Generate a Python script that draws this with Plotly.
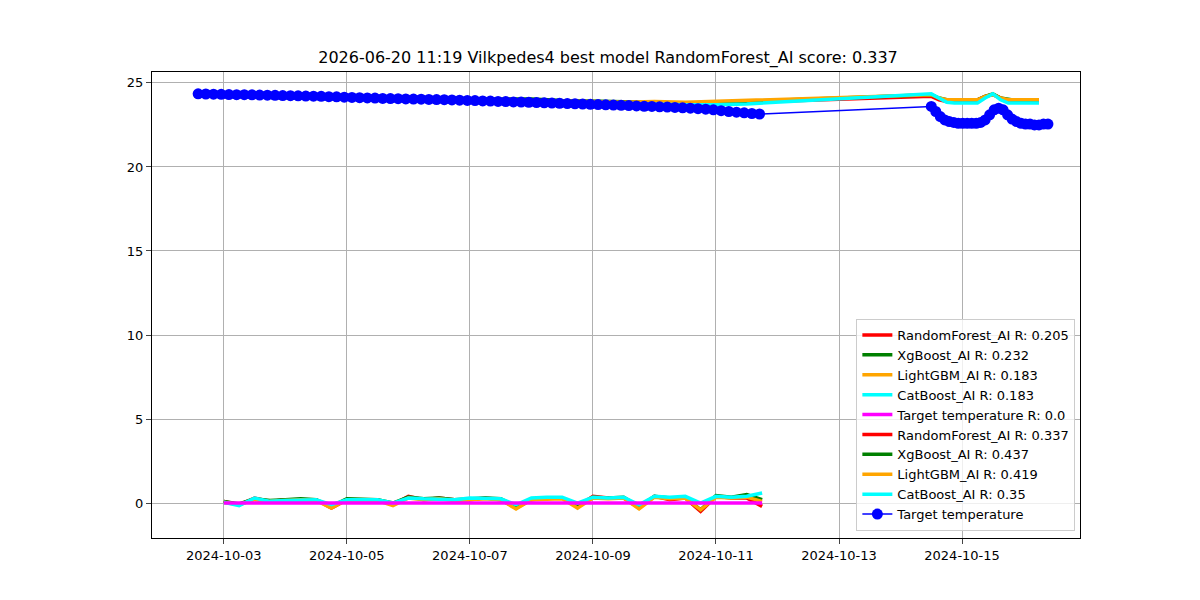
import pandas as pd
import plotly.graph_objects as go

# Target temperature (blue markers)
target_seg1 = [24.35,24.34,24.33,24.32,24.31,24.30,24.30,24.29,24.28,24.27,
               24.26,24.25,24.24,24.23,24.22,24.21,24.20,24.18,24.17,24.15,
               24.14,24.12,24.11,24.10,24.08,24.07,24.06,24.05,24.04,24.03,
               24.02,24.01,24.00,23.99,23.97,23.96,23.95,23.93,23.92,23.90,
               23.89,23.87,23.86,23.85,23.83,23.82,23.80,23.79,23.77,23.76,
               23.74,23.73,23.71,23.70,23.68,23.67,23.65,23.63,23.61,23.60,
               23.58,23.56,23.54,23.52,23.50,23.47,23.44,23.40,23.35,23.30,
               23.26,23.22,23.18,23.15]
target_seg2 = [23.6,23.3,23.0,22.8,22.7,22.65,22.6,22.6,22.6,22.6,22.6,22.65,22.8,23.1,23.4,23.5,23.4,23.1,22.85,
               22.7,22.6,22.55,22.55,22.5,22.5,22.55,22.55]
t_seg1 = pd.date_range("2024-10-02 14:00", periods=len(target_seg1), freq="3h")
t_seg2 = pd.date_range("2024-10-14 12:00", periods=len(target_seg2), freq="1h45min")

# Top predictions
p_seg1_times = pd.date_range("2024-10-03 00:00", periods=18, freq="12h")
p_seg2_times = pd.date_range("2024-10-14 12:00", periods=15, freq="3h")
rf_top1  = [24.2,24.15,24.1,24.1,24.05,24.05,24.0,24.0,23.95,23.95,23.9,23.9,23.85,23.85,23.8,23.8,23.8,23.85]
xg_top1  = [24.25,24.2,24.2,24.15,24.1,24.05,24.0,24.0,24.0,24.0,24.05,23.95,23.9,23.85,23.85,23.8,23.85,23.9]
lg_top1  = [24.2,24.2,24.15,24.1,24.05,24.0,24.0,23.95,23.95,23.95,23.95,23.9,23.9,23.85,23.9,23.85,23.9,23.95]
cb_top1  = [24.2,24.15,24.1,24.1,24.05,24.0,24.0,23.95,23.9,23.9,23.9,23.85,23.8,23.8,23.75,23.7,23.7,23.75]
rf_top2 = [24.2,24.0,23.9,23.9,23.9,23.9,24.0,24.2,24.3,24.1,23.9,23.9,23.9,23.9,23.9]
xg_top2 = [24.3,24.1,24.0,24.0,24.0,24.0,24.0,24.2,24.35,24.1,24.0,23.95,23.95,24.0,24.0]
lg_top2 = [24.3,24.1,24.0,24.0,24.0,24.0,24.0,24.2,24.3,24.1,24.0,24.0,24.0,24.0,24.0]
cb_top2 = [24.35,24.1,23.85,23.8,23.8,23.8,23.8,24.1,24.35,24.0,23.8,23.8,23.8,23.8,23.8]

# Bottom lines, 6h steps
res_times = pd.date_range("2024-10-03 00:00", periods=36, freq="6h")
rf_res = [0.1,-0.1,0.3,0.1, 0.2,0.2,0.2,-0.3, 0.2,0.2,0.2,-0.1, 0.4,0.2,0.3,0.2, 0.2,0.3,0.2,-0.3, 0.2,0.3,0.3,-0.2,
          0.4,0.3,0.3,-0.3, 0.4,0.2,0.3,-0.5, 0.4,0.3,0.3,-0.2]
xg_res = [0.1,-0.05,0.25,0.15, 0.2,0.25,0.2,-0.2, 0.25,0.25,0.2,0.0, 0.35,0.25,0.3,0.2, 0.25,0.3,0.25,-0.2, 0.25,0.3,0.3,-0.1,
          0.35,0.3,0.35,-0.2, 0.4,0.3,0.35,-0.4, 0.45,0.35,0.5,0.2]
lg_res = [0.05,-0.1,0.2,0.1, 0.15,0.2,0.15,-0.3, 0.2,0.2,0.15,-0.15, 0.3,0.2,0.25,0.15, 0.2,0.25,0.2,-0.35, 0.2,0.25,0.25,-0.3,
          0.3,0.25,0.3,-0.35, 0.35,0.25,0.3,-0.4, 0.35,0.3,0.35,0.1]
cb_res = [0.05,-0.15,0.3,0.1, 0.15,0.2,0.2,-0.1, 0.2,0.2,0.2,0.0, 0.3,0.25,0.25,0.2, 0.3,0.3,0.25,-0.1, 0.3,0.35,0.35,0.0,
          0.35,0.3,0.35,-0.1, 0.4,0.35,0.4,0.0, 0.4,0.35,0.4,0.6]
tgt_res = [0.0]*36

fig = go.Figure()
def line(x, y, color, name):
    fig.add_trace(go.Scatter(x=list(x), y=y, mode="lines", line=dict(color=color, width=3.5), name=name))

line(res_times, rf_res, "red", "RandomForest_AI R: 0.205")
line(res_times, xg_res, "green", "XgBoost_AI R: 0.232")
line(res_times, lg_res, "orange", "LightGBM_AI R: 0.183")
line(res_times, cb_res, "cyan", "CatBoost_AI R: 0.183")
line(res_times, tgt_res, "magenta", "Target temperature R: 0.0")

for top1, top2, color, name in [(rf_top1, rf_top2, "red", "RandomForest_AI R: 0.337"),
                                (xg_top1, xg_top2, "green", "XgBoost_AI R: 0.437"),
                                (lg_top1, lg_top2, "orange", "LightGBM_AI R: 0.419"),
                                (cb_top1, cb_top2, "cyan", "CatBoost_AI R: 0.35")]:
    line(list(p_seg1_times) + list(p_seg2_times), top1 + top2, color, name)

fig.add_trace(go.Scatter(x=list(t_seg1) + list(t_seg2), y=target_seg1 + target_seg2, mode="lines+markers",
                         line=dict(color="blue", width=1.5), marker=dict(color="blue", size=11),
                         name="Target temperature"))

fig.update_layout(
    width=1200, height=600, plot_bgcolor="white", paper_bgcolor="white",
    font=dict(family="DejaVu Sans", size=13, color="black"),
    title=dict(text="2026-06-20 11:19 Vilkpedes4 best model RandomForest_AI score: 0.337",
               x=0.5, xanchor="center", y=0.918, yanchor="middle", font=dict(size=16)),
    margin=dict(l=144, r=128, t=64, b=70),
    legend=dict(x=0.995, y=0.015, xanchor="right", yanchor="bottom", bordercolor="#cccccc",
                borderwidth=1, bgcolor="rgba(255,255,255,0.8)", font=dict(size=13), tracegroupgap=0),
)
ticks = ["2024-10-03", "2024-10-05", "2024-10-07", "2024-10-09", "2024-10-11", "2024-10-13", "2024-10-15"]
fig.update_xaxes(range=["2024-10-01 20:00", "2024-10-16 22:00"], showgrid=True, gridcolor="#b0b0b0",
                 tickvals=ticks, ticktext=ticks,
                 showline=True, linecolor="black", mirror=True, ticks="outside", zeroline=False)
fig.update_yaxes(range=[-2.08, 25.65], tickvals=[0, 5, 10, 15, 20, 25], showgrid=True, gridcolor="#b0b0b0",
                 showline=True, linecolor="black", mirror=True, ticks="outside", zeroline=False)
fig.write_html("out.html")
